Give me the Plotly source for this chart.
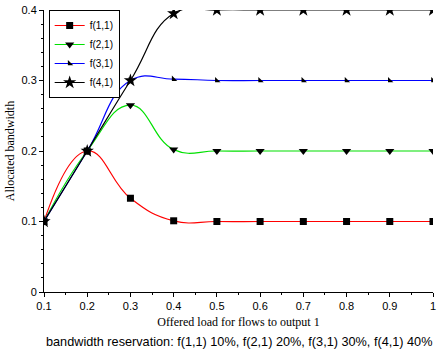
import plotly.graph_objects as go

load = [0.1, 0.2, 0.3, 0.4, 0.5, 0.6, 0.7, 0.8, 0.9, 1.0]
f11 = [0.1, 0.2, 0.133, 0.101, 0.1, 0.1, 0.1, 0.1, 0.1, 0.1]
f21 = [0.1, 0.2, 0.265, 0.202, 0.2, 0.2, 0.2, 0.2, 0.2, 0.2]
f31 = [0.1, 0.2, 0.3, 0.302, 0.3, 0.3, 0.3, 0.3, 0.3, 0.3]
f41 = [0.1, 0.2, 0.3, 0.395, 0.4, 0.4, 0.4, 0.4, 0.4, 0.4]
names = ["f(1,1)", "f(2,1)", "f(3,1)", "f(4,1)"]
series = [f11, f21, f31, f41]
colors = ["#ff0000", "#00e000", "#0000ff", "#000000"]
symbols = ["square", "triangle-down", "triangle-sw", "star"]
sizes = [7, 8, 6, 10]

fig = go.Figure()
for name, ys, c, s, sz in zip(names, series, colors, symbols, sizes):
    fig.add_trace(go.Scatter(
        x=load, y=ys, name=name, mode="lines+markers",
        line=dict(color=c, width=1.2, shape="spline", smoothing=1.3),
        marker=dict(symbol=s, size=sz, color="black"),
    ))

fig.update_layout(
    width=440, height=356,
    margin=dict(l=44, r=4, t=8, b=64),
    paper_bgcolor="white", plot_bgcolor="white",
    font=dict(family="Liberation Sans, Arial", size=11, color="black"),
    showlegend=True,
    legend=dict(x=0.012, y=1.0, xanchor="left", yanchor="top",
                bordercolor="black", borderwidth=1, bgcolor="white",
                font=dict(size=10), itemwidth=30, tracegroupgap=0),
    xaxis=dict(range=[0.1, 1.0], tickvals=load, ticktext=["0.1","0.2","0.3","0.4","0.5","0.6","0.7","0.8","0.9","1"],
               showgrid=False, zeroline=False, showline=True, linecolor="black", linewidth=1,
               ticks="outside", ticklen=4, tickcolor="black",
               minor=dict(dtick=0.05, ticks="outside", ticklen=2, tickcolor="black"),
               title=dict(text="Offered load for flows to output 1",
                          font=dict(family="Liberation Serif, Times New Roman", size=12), standoff=6)),
    yaxis=dict(range=[0, 0.4], tickvals=[0, 0.1, 0.2, 0.3, 0.4], ticktext=["0", "0.1", "0.2", "0.3", "0.4"],
               showgrid=False, zeroline=False, showline=True, linecolor="black", linewidth=1,
               ticks="outside", ticklen=4, tickcolor="black",
               minor=dict(dtick=0.02, ticks="outside", ticklen=2, tickcolor="black"),
               title=dict(text="Allocated bandwidth",
                          font=dict(family="Liberation Serif, Times New Roman", size=12), standoff=4)),
)
fig.add_annotation(text="bandwidth reservation: f(1,1) 10%, f(2,1) 20%, f(3,1) 30%, f(4,1) 40%",
                   xref="paper", yref="paper", x=0.5, y=-0.145, xanchor="center", yanchor="top",
                   showarrow=False, font=dict(size=12.7))
fig.write_html("out.html")
